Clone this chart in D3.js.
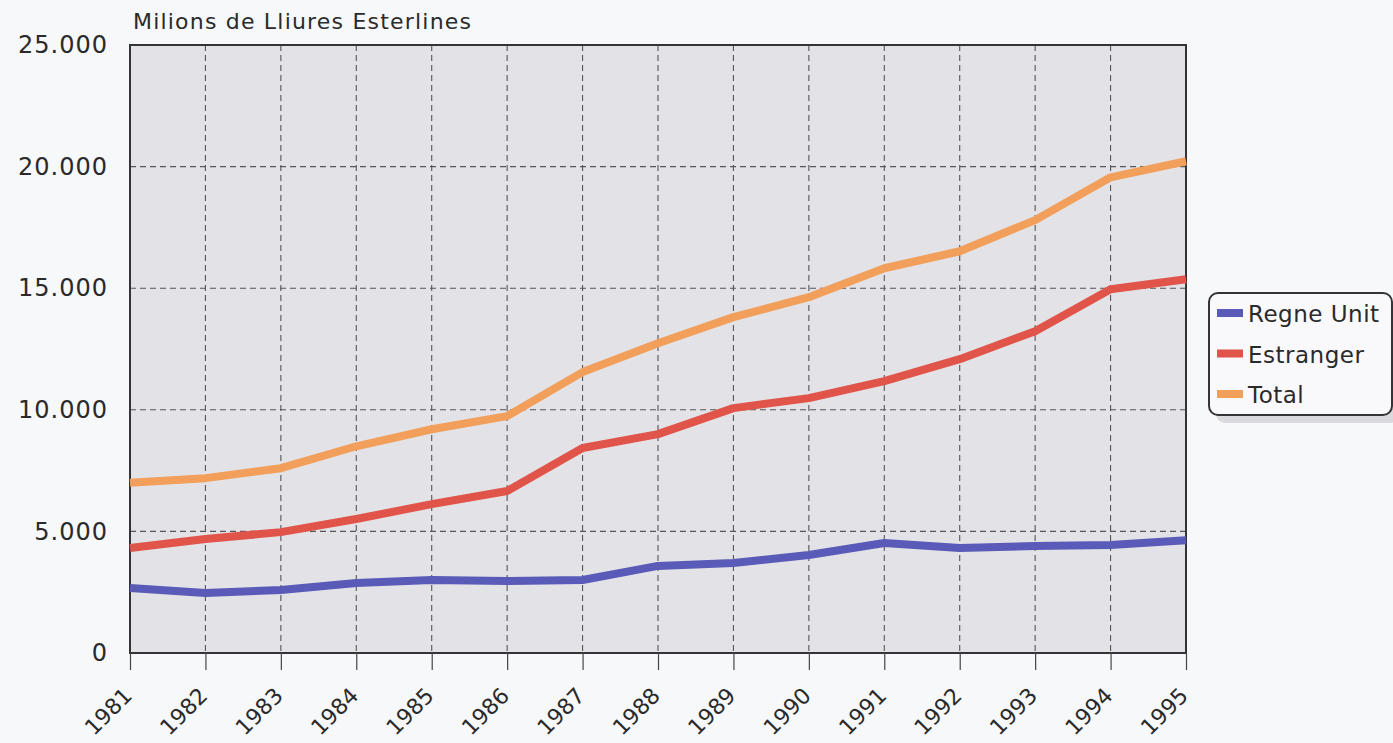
<!DOCTYPE html>
<html>
<head>
<meta charset="utf-8">
<script src="https://cdn.jsdelivr.net/npm/d3@7"></script>
<style>
  html, body { margin: 0; padding: 0; background: #f7f8fa; }
  svg { display: block; }
  text { font-family: "DejaVu Sans", "Liberation Sans", sans-serif; fill: #2a2a2a; }
</style>
</head>
<body>
<svg id="chart" width="1393" height="743"></svg>
<script>
// Years on the horizontal axis
const years = [1981, 1982, 1983, 1984, 1985, 1986, 1987, 1988, 1989, 1990, 1991, 1992, 1993, 1994, 1995];

// Series values, millions of pounds sterling
const regneUnit = [2670, 2470, 2590, 2880, 3000, 2960, 3000, 3580, 3700, 4030, 4520, 4315, 4400, 4440, 4640];
const estranger = [4315, 4690, 4970, 5510, 6120, 6660, 8430, 9000, 10070, 10480, 11180, 12080, 13230, 14960, 15370];
const total     = [7000, 7190, 7600, 8500, 9200, 9740, 11550, 12740, 13810, 14630, 15820, 16520, 17800, 19560, 20220];

const seriesNames = ["Regne Unit", "Estranger", "Total"];
const yTicks = [0, 5000, 10000, 15000, 20000, 25000];
const yTitle = "Milions de Lliures Esterlines";

const series = [
  { name: seriesNames[0], values: regneUnit, color: "#5a5ab8" },
  { name: seriesNames[1], values: estranger, color: "#e0544a" },
  { name: seriesNames[2], values: total,     color: "#f29f5c" }
];

const svg = d3.select("#chart");
const plot = { left: 130, right: 1186, top: 45, bottom: 653 };

const x = d3.scalePoint().domain(years).range([plot.left, plot.right]);
const y = d3.scaleLinear().domain([0, 25000]).range([plot.bottom, plot.top]);

const fmt = v => v === 0 ? "0" : d3.format(",")(v).replace(/,/g, ".");

// Plot area background
svg.append("rect")
  .attr("x", plot.left).attr("y", plot.top)
  .attr("width", plot.right - plot.left).attr("height", plot.bottom - plot.top)
  .attr("fill", "#e3e3e7");

// Dashed grid
const grid = svg.append("g").attr("stroke", "#55555a").attr("stroke-width", 1.1)
  .attr("stroke-dasharray", "6,4");
grid.selectAll("line.h").data(yTicks.filter(t => t > 0 && t < 25000)).join("line")
  .attr("class", "h")
  .attr("x1", plot.left).attr("x2", plot.right)
  .attr("y1", d => y(d)).attr("y2", d => y(d));
grid.selectAll("line.v").data(years.slice(1, -1)).join("line")
  .attr("class", "v")
  .attr("x1", d => x(d)).attr("x2", d => x(d))
  .attr("y1", plot.top).attr("y2", plot.bottom);

// Frame
svg.append("rect")
  .attr("x", plot.left).attr("y", plot.top)
  .attr("width", plot.right - plot.left).attr("height", plot.bottom - plot.top)
  .attr("fill", "none").attr("stroke", "#333338").attr("stroke-width", 2);

// Y axis labels
const yAxis = d3.axisLeft(y).tickValues(yTicks).tickFormat(fmt).tickSize(0).tickPadding(22);
const yg = svg.append("g").attr("transform", `translate(${plot.left},0)`).call(yAxis);
yg.select(".domain").remove();
yg.selectAll("text")
  .attr("font-family", null).attr("font-size", null)
  .style("font-size", "24px").style("letter-spacing", "1px")
  .attr("fill", "#2a2a2a");

// X axis ticks and rotated labels
const xAxis = d3.axisBottom(x).tickSize(17).tickPadding(0);
const xg = svg.append("g").attr("transform", `translate(0,${plot.bottom})`).call(xAxis);
xg.select(".domain").remove();
xg.selectAll(".tick line").attr("stroke", "#444").attr("stroke-width", 1.2);
xg.selectAll("text")
  .style("font-size", "22px")
  .attr("fill", "#2a2a2a")
  .attr("text-anchor", "end")
  .attr("x", 0).attr("y", 0).attr("dy", "0")
  .attr("transform", "translate(3,44) rotate(-45)");

// Axis title
svg.append("text")
  .attr("x", 133).attr("y", 29)
  .style("font-size", "22px").style("letter-spacing", "1.2px")
  .text(yTitle);

// Lines
const line = d3.line().x((d, i) => x(years[i])).y(d => y(d));
svg.append("g").selectAll("path").data(series).join("path")
  .attr("d", d => line(d.values))
  .attr("fill", "none")
  .attr("stroke", d => d.color)
  .attr("stroke-width", 8)
  .attr("stroke-linejoin", "round");

// Legend with shadow
const lg = svg.append("g").attr("transform", "translate(1209,293)");
lg.append("rect").attr("x", 7).attr("y", 8).attr("width", 183).attr("height", 122)
  .attr("rx", 9).attr("fill", "#dadade");
lg.append("rect").attr("x", 0).attr("y", 0).attr("width", 183).attr("height", 122)
  .attr("rx", 9).attr("fill", "#f9f9fb").attr("stroke", "#333338").attr("stroke-width", 2);
const items = lg.selectAll("g.item").data(series).join("g")
  .attr("class", "item")
  .attr("transform", (d, i) => `translate(0,${20 + i * 40.5})`);
items.append("rect").attr("x", 8).attr("y", -4).attr("width", 26).attr("height", 8).attr("fill", d => d.color);
items.append("text").attr("x", 39).attr("y", 9)
  .style("font-size", "23px").style("letter-spacing", "0.5px")
  .text(d => d.name);
</script>
</body>
</html>
